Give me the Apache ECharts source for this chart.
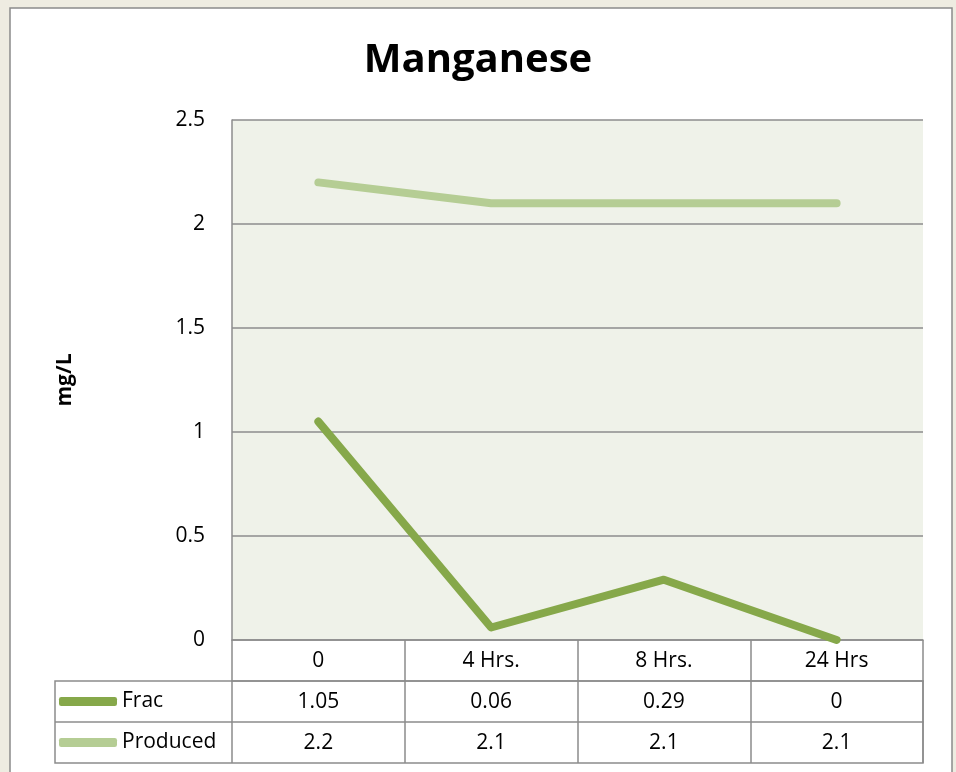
<!DOCTYPE html>
<html>
<head>
<meta charset="utf-8">
<script src="https://cdn.jsdelivr.net/npm/echarts@6/dist/echarts.min.js"></script>
<style>
  html, body { margin: 0; padding: 0; background: #eeece1; }
  #chart { width: 956px; height: 772px; }
</style>
</head>
<body>
<div id="chart"></div>
<script>
const categories = ['0', '4 Hrs.', '8 Hrs.', '24 Hrs']
const fracValues = [1.05, 0.06, 0.29, 0]
const producedValues = [2.2, 2.1, 2.1, 2.1]
const seriesNames = ['Frac', 'Produced']

const font = '"Open Sans", "Noto Sans", sans-serif'
const fontSize = 21
const borderColor = '#8c8c8c'
const fracColor = '#86a84a'
const producedColor = '#b5cd94'

// layout of the plot and data table below it
const gridLeft = 232
const gridTop = 120
const gridWidth = 691
const gridHeight = 520
const rowH = 41
const tableLeft = 55
const gridBottomY = gridTop + gridHeight

function tableAxis (data, offset) {
  return {
    type: 'category',
    position: 'bottom',
    offset: offset,
    data: data,
    boundaryGap: true,
    axisLine: { show: true, lineStyle: { color: borderColor, width: 1.5 } },
    axisTick: { show: true, interval: 0, length: rowH, lineStyle: { color: borderColor, width: 1.5 } },
    axisLabel: { interval: 0, margin: 11, fontSize: fontSize, color: '#000', fontFamily: font },
    splitLine: { show: false }
  }
}

function rowLegend (name, rowIndex) {
  return {
    data: [name],
    left: tableLeft + 4,
    top: gridBottomY + rowH * rowIndex + 10,
    padding: 0,
    icon: 'roundRect',
    itemWidth: 58,
    itemHeight: 9,
    itemGap: 0,
    itemTextGap: 0,
    textStyle: { fontSize: fontSize, color: '#000', fontFamily: font }
  }
}

const chart = echarts.init(document.getElementById('chart'))

const option = {
  animation: false,
  backgroundColor: '#eeece1',
  title: {
    text: 'Manganese',
    left: 'center',
    top: 36,
    textStyle: { fontSize: 40, fontWeight: 'bold', color: '#000', fontFamily: font }
  },
  graphic: [
    {
      type: 'rect',
      z: -10,
      shape: { x: 10, y: 8, width: 942, height: 790 },
      style: { fill: '#fff', stroke: '#8a8a8a', lineWidth: 1.5 }
    },
    {
      type: 'rect',
      shape: { x: tableLeft, y: gridBottomY + rowH, width: gridLeft + gridWidth - tableLeft, height: rowH * 2 },
      style: { fill: 'none', stroke: borderColor, lineWidth: 1.5 }
    },
    {
      type: 'line',
      shape: { x1: tableLeft, y1: gridBottomY + rowH * 2, x2: gridLeft, y2: gridBottomY + rowH * 2 },
      style: { stroke: borderColor, lineWidth: 1.5 }
    }
  ],
  legend: [
    rowLegend(seriesNames[0], 1),
    rowLegend(seriesNames[1], 2)
  ],
  grid: {
    left: gridLeft,
    top: gridTop,
    width: gridWidth,
    height: gridHeight,
    show: true,
    backgroundColor: '#eff2e9',
    borderWidth: 0
  },
  xAxis: [
    tableAxis(categories, 0),
    tableAxis(fracValues.map(String), rowH),
    tableAxis(producedValues.map(String), rowH * 2)
  ],
  yAxis: {
    type: 'value',
    min: 0,
    max: 2.5,
    interval: 0.5,
    name: 'mg/L',
    nameLocation: 'middle',
    nameRotate: 90,
    nameGap: 156,
    nameTextStyle: { fontSize: fontSize, fontWeight: 'bold', color: '#000', fontFamily: font },
    axisLine: { show: true, lineStyle: { color: borderColor, width: 1.5 } },
    axisTick: { show: false },
    axisLabel: { margin: 27, fontSize: fontSize, color: '#000', fontFamily: font },
    splitLine: { show: true, lineStyle: { color: borderColor, width: 1.5 } }
  },
  series: [
    {
      name: seriesNames[0],
      type: 'line',
      data: fracValues,
      color: fracColor,
      showSymbol: false,
      symbol: 'none',
      clip: false,
      lineStyle: { width: 8, color: fracColor, cap: 'round', join: 'round' },
      z: 3
    },
    {
      name: seriesNames[1],
      type: 'line',
      data: producedValues,
      color: producedColor,
      showSymbol: false,
      symbol: 'none',
      clip: false,
      lineStyle: { width: 8, color: producedColor, cap: 'round', join: 'round' },
      z: 2
    }
  ]
}

chart.setOption(option)
</script>
</body>
</html>
